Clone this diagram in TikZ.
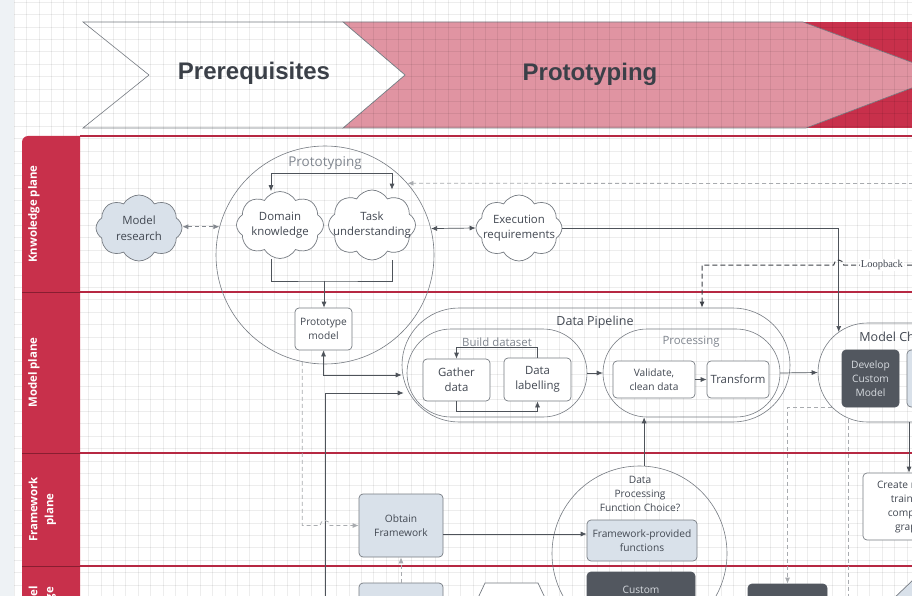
\documentclass[tikz,border=0pt]{standalone}
\usepackage{fontspec}
\setmainfont{Open Sans}
\newfontfamily\bannerfont{Liberation Sans}
\newfontfamily\notefont{Liberation Serif}
\usetikzlibrary{positioning}
\usetikzlibrary{shapes.symbols,arrows.meta}

\definecolor{lanered}{RGB}{200,48,75}
\definecolor{laneline}{RGB}{182,40,66}
\definecolor{phasepink}{RGB}{224,148,162}
\definecolor{bannerink}{RGB}{59,64,72}
\definecolor{inkdark}{RGB}{66,72,82}
\definecolor{inkgray}{RGB}{128,134,143}
\definecolor{boxblue}{RGB}{217,225,234}
\definecolor{boxdark}{RGB}{82,87,95}
\definecolor{darktext}{RGB}{215,219,224}
\definecolor{edgegray}{RGB}{118,123,130}
\definecolor{wire}{RGB}{78,83,90}
\definecolor{wiremid}{RGB}{130,135,142}
\definecolor{wirefaint}{RGB}{168,171,175}
\definecolor{sidebar}{RGB}{238,242,245}

\begin{document}
\begin{tikzpicture}[x=1pt, y=-1pt,
    >={Latex[length=6pt,width=5pt]},
    every node/.style={text=inkdark},
    fs-cloud/.style={font=\fontsize{11.4}{15.5}\selectfont},
    fs-box/.style={font=\fontsize{10.2}{14}\selectfont},
    fs-step/.style={font=\fontsize{11.4}{15}\selectfont},
    box-plain/.style={rectangle, rounded corners=4pt, draw=edgegray, fill=white, line width=0.7pt, align=center, inner sep=1pt, fs-box},
    box-blue/.style={box-plain, fill=boxblue},
    box-dark/.style={box-plain, fill=boxdark, draw=boxdark, text=darktext},
    cloud-plain/.style={cloud, cloud puffs=8, cloud puff arc=120, cloud ignores aspect, draw=edgegray, fill=white, line width=0.7pt, inner sep=0pt},
    cloud-blue/.style={cloud-plain, fill=boxblue},
    cloud-text/.style={align=center, fs-cloud},
    ring/.style={circle, draw=edgegray, line width=0.6pt, inner sep=0pt},
    pill/.style={rectangle, draw=edgegray, line width=0.6pt, inner sep=0pt},
    ring-title/.style={text=inkgray, font=\fontsize{13.5}{16}\selectfont},
    pill-title/.style={font=\fontsize{12.5}{15}\selectfont},
    sub-title/.style={text=inkgray, font=\fontsize{11.4}{14}\selectfont},
    link/.style={draw=wire, line width=0.7pt},
    link-faint/.style={draw=wirefaint, line width=0.8pt, dash pattern=on 4pt off 3pt},
    link-loop/.style={draw=wire!80!black, line width=1pt, dash pattern=on 5pt off 3pt},
    loop-tag/.style={fill=white, inner sep=1pt, font=\notefont\fontsize{10.5}{12}\selectfont},
    banner/.style={draw=edgegray, line width=0.6pt},
    banner-text/.style={text=bannerink, font=\bannerfont\fontsize{24}{28}\selectfont\bfseries},
    lane-line/.style={draw=laneline, line width=1.8pt},
    lane-split/.style={draw=laneline!75!black, line width=0.8pt},
    lane-title/.style={rotate=90, text=white, align=center, font=\fontsize{11.4}{16}\selectfont\bfseries},
    grid-line/.style={draw=black, opacity=0.07, line width=0.5pt}
  ]
  \useasboundingbox (0,0) rectangle (912,596);
  \clip (0,0) rectangle (912,596);

  % canvas
  \fill[white] (0,0) rectangle (912,596);
  \fill[sidebar] (0,0) rectangle (14,596);

  % phase banners
  \fill[lanered] (780,22) rectangle (912,128);
  \draw[banner, fill=phasepink] (343,22) -- (803,22) -- (946,75) -- (806,128) -- (343,128) -- (405,75) -- cycle;
  \draw[banner, fill=white] (83,22) -- (343,22) -- (405,75) -- (343,128) -- (83,128) -- (149,75) -- cycle;

  % grid
  \foreach \gx in {14,26.4,...,912} \draw[grid-line] (\gx,0) -- (\gx,596);
  \foreach \gy in {2,14.4,...,596} \draw[grid-line] (14,\gy) -- (912,\gy);

  \node[banner-text] (ph-pre) at (254,73) {Prerequisites};
  \node[banner-text] (ph-proto) at (590,74) {Prototyping};

  % swimlanes
  \fill[lanered] (22,600) -- (22,142) arc[start angle=180, end angle=90, radius=6pt] -- (80,136) -- (80,600) -- cycle;
  \foreach \ly in {136,292,453,566} \draw[lane-line] (80,\ly) -- (912,\ly);
  \foreach \ly in {292,453,566} \draw[lane-split] (22,\ly) -- (80,\ly);

  \node[lane-title] (lane-know) at (34,214) {Knwoledge plane};
  \node[lane-title] (lane-model) at (34,372.5) {Model plane};
  \node[lane-title] (lane-frame) at (42.5,509.5) {Framework\\plane};
  \node[lane-title] (lane-low) at (42.5,613) {Low-level\\language};

  % knowledge plane
  \node[cloud-blue, minimum width=86pt, minimum height=66pt,
        label={[cloud-text]center:{Model\\research}}] (research) at (139,228) {};
  \node[ring, minimum size=218pt] (proto-ring) at (325,255) {};
  \node[ring-title] (proto-title) at (325,163) {Prototyping};
  \node[cloud-plain, minimum width=87pt, minimum height=67pt,
        label={[cloud-text]center:{Domain\\knowledge}}] (domain) at (280,225) {};
  \node[cloud-plain, minimum width=87pt, minimum height=70pt,
        label={[cloud-text]center:{Task\\understanding}}] (task) at (372,225) {};
  \node[cloud-plain, minimum width=86pt, minimum height=66pt,
        label={[cloud-text]center:{Execution\\requirements}}] (execution) at (519,228) {};

  % model plane
  \node[box-plain, minimum width=57pt, minimum height=42pt] (proto-model) at (323.5,329) {Prototype\\model};

  \node[pill, rounded corners=57pt, minimum width=388pt, minimum height=114pt] (pipeline) at (596,365) {};
  \node[pill-title] (pipeline-title) at (595,322) {Data Pipeline};
  \node[pill, rounded corners=44pt, minimum width=180pt, minimum height=88pt] (build) at (497,373) {};
  \node[sub-title] (build-title) at (497,342) {Build dataset};
  \node[box-plain, fs-step, minimum width=67pt, minimum height=42pt] (gather) at (456.5,380) {Gather\\data};
  \node[box-plain, fs-step, minimum width=67pt, minimum height=43pt] (labelling) at (537.5,379.5) {Data\\labelling};
  \node[pill, rounded corners=44pt, minimum width=177pt, minimum height=88pt] (processing) at (691.5,373) {};
  \node[sub-title] (processing-title) at (691,342) {Processing};
  \node[box-plain, minimum width=82pt, minimum height=37pt] (validate) at (654,379.5) {Validate,\\clean data};
  \node[box-plain, fs-step, minimum width=62pt, minimum height=37pt] (transform) at (738,379.5) {Transform};

  \node[pill, rounded corners=49.5pt, minimum width=162pt, minimum height=99pt] (choice) at (899,372.5) {};
  \node[pill-title] (choice-title) at (899,337) {Model Choice};
  \node[box-dark, minimum width=57pt, minimum height=57pt] (develop) at (870.5,378.5) {Develop\\Custom\\Model};
  \node[box-blue, minimum width=57pt, minimum height=57pt] (choice-alt) at (935.5,378.5) {};

  % framework plane
  \node[box-blue, minimum width=84pt, minimum height=63pt] (obtain) at (401,525.5) {Obtain\\Framework};
  \node[ring, minimum size=175pt] (dpf-ring) at (639.5,553.5) {};
  \node[fs-box, align=center] (dpf-title) at (640,494) {Data\\Processing\\Function Choice?};
  \node[box-blue, minimum width=110pt, minimum height=41pt] (fwfunc) at (642,540.5) {Framework-provided\\functions};
  \node[box-plain, minimum width=92pt, minimum height=67pt] (create) at (909,506.5) {Create model\\training\\compute\\graph};

  % lowest lane
  \node[box-blue, minimum width=84pt, minimum height=64pt] (fw-source) at (401,615) {};
  \node[box-dark, minimum width=108pt, minimum height=50pt] (custom) at (641,597) {Custom\\functions};
  \node[box-dark, minimum width=79pt, minimum height=62pt] (kernel-box) at (787.5,615) {};
  \draw[banner, fill=white, line width=0.7pt] (477,600) -- (485,583) -- (538,583) -- (546,600);
  \draw[banner, fill=boxblue, line width=0.7pt] (892,600) -- (913,580) -- (934,600);

  % anchor points for the connectors
  \coordinate (merge) at (324,281);
  \coordinate (feed) at (325,600);
  \coordinate (loop-in) at (920,265);
  \coordinate (fb-in) at (920,183.5);
  \coordinate (choice-top) at ([xshift=21pt,yshift=40.5pt]choice.west);
  \coordinate (choice-heel) at ([xshift=14pt,yshift=-34.5pt]choice.west);
  \coordinate (choice-foot) at ([xshift=31pt,yshift=-46pt]choice.west);
  \coordinate (hop-a) at (choice-top |- loop-in);
  \coordinate (hop-b) at (feed |- obtain.west);
  \coordinate (obtain-out) at ([yshift=-8.5pt]obtain.east);

  % knowledge links
  \draw[link-faint, draw=wiremid, <->] (research.east |- proto-ring.165) -- (proto-ring.165);
  \draw[link, <->] ([xshift=-9pt]domain.north) -- ++(0,-18) -| ([xshift=20pt]task.north);
  \draw[link] ([xshift=-9pt]domain.south) |- (merge) -| ([xshift=20pt]task.south);
  \draw[link, ->] (merge) -- (merge |- proto-model.north);
  \draw[link, <->] (proto-ring.14) -- (execution.west);
  \draw[link, ->] (execution.east) -| (choice-top);
  \draw[link-faint, ->] (fb-in) -- (proto-ring.41);
  \draw[link-loop, ->] (loop-in) -- node[loop-tag] (loopback) {Loopback} ([xshift=5pt]hop-a)
    arc[start angle=0, end angle=180, radius=5pt] -| ([xshift=106pt]pipeline.north);

  % model links
  \draw[link, <->] (proto-model.south) |- ([yshift=-10pt]pipeline.west);
  \draw[link, ->, shorten >=3pt] (feed) |- ([yshift=-20pt]build.west);
  \draw[link-faint, ->] (proto-ring.-102) |- ([xshift=-5pt]hop-b)
    arc[start angle=180, end angle=0, radius=5pt] -- (obtain.west);
  \draw[link, ->] (labelling.north) -- ++(0,-10) -| (gather.north);
  \draw[link, ->] (gather.south) -- ++(0,10) -| (labelling.south);
  \draw[link, ->] (build.east) -- (processing.west);
  \draw[link, ->] (validate) -- (transform);
  \draw[link, ->] (processing.east) -- (choice.west);
  \draw[link, ->] (dpf-ring.87) -- (dpf-ring.87 |- processing.south);

  % framework links
  \draw[link, ->] (obtain-out) -- (obtain-out -| fwfunc.west);
  \draw[link-faint, ->] (fw-source.north) -- (obtain.south);
  \draw[link-faint, ->] (choice-heel) -| (kernel-box.north);
  \draw[link-faint] (choice-foot) -- (choice-foot |- feed);
  \draw[link, ->] (create.north |- choice.south) -- (create.north);
\end{tikzpicture}
\end{document}
